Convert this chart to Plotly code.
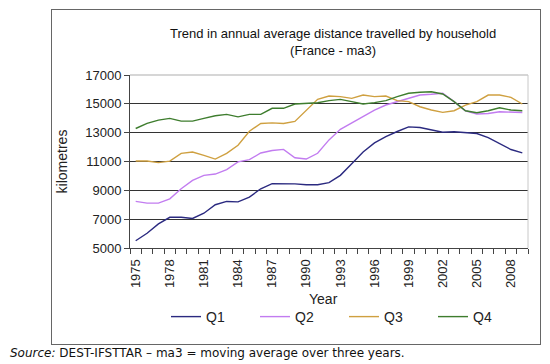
import plotly.graph_objects as go

years = list(range(1975, 2010))
q1 = [5500, 6020, 6670, 7130, 7130, 7050, 7410, 8000, 8230, 8200, 8530, 9110, 9460, 9460, 9450,
      9390, 9390, 9530, 10040, 10850, 11660, 12290, 12730, 13080, 13400, 13360, 13170, 13030, 13060,
      12990, 12940, 12660, 12250, 11830, 11600]
q2 = [8230, 8110, 8110, 8410, 9110, 9690, 10040, 10130, 10440, 10970, 11130, 11590, 11760, 11840, 11260,
      11170, 11570, 12500, 13230, 13680, 14150, 14570, 14920, 15150, 15430, 15610, 15660, 15730, 15150,
      14520, 14290, 14330, 14450, 14450, 14400]
q3 = [11030, 11030, 10920, 11030, 11560, 11660, 11430, 11170, 11560, 12130, 13100, 13640, 13680, 13640, 13780,
      14570, 15310, 15540, 15500, 15380, 15610, 15500, 15540, 15220, 15150, 14800, 14570, 14410, 14520,
      14910, 15150, 15610, 15610, 15450, 14990]
q4 = [13290, 13640, 13870, 13990, 13800, 13800, 13990, 14170, 14270, 14100, 14270, 14270, 14690, 14690, 14990,
      15030, 15080, 15220, 15310, 15150, 14990, 15080, 15220, 15500, 15730, 15800, 15840, 15680, 15150,
      14520, 14380, 14520, 14730, 14570, 14520]
series_names = ["Q1", "Q2", "Q3", "Q4"]
series_colors = ["#2B2A80", "#C27CF0", "#CFA040", "#3E7D2E"]
y_ticks = [5000, 7000, 9000, 11000, 13000, 15000, 17000]
y_tick_labels = [str(v) for v in y_ticks]
x_tick_years = years[::3]

title_text = "Trend in annual average distance travelled by household<br>(France - ma3)"
x_title = "Year"
source_text = "<i>Source:</i> DEST-IFSTTAR \u2013 ma3 = moving average over three years."

FONT = "Arial, 'Liberation Sans', sans-serif"

# the page adds an 8px body margin: screen px = figure px + 8
OFF = 8
W, H = 550 - OFF, 364 - OFF
# plot area on screen: x 130..528, y 75..248
SL, SR, ST, SB = 130, 528, 75, 248
L, T = SL - OFF, ST - OFF
R, B = W - (SR - OFF), H - (SB - OFF)
pw, ph = W - L - R, H - T - B

def px_x(px):
    return (px - SL) / pw

def px_y(py):
    return (SB - py) / ph

fig = go.Figure()
for name, vals, col in zip(series_names, [q1, q2, q3, q4], series_colors):
    fig.add_trace(go.Scatter(x=years, y=vals, name=name, mode="lines",
                             line=dict(color=col, width=1.4)))

fig.update_layout(
    template="none",
    width=W, height=H,
    margin=dict(l=L, r=R, t=T, b=B, autoexpand=False),
    paper_bgcolor="white", plot_bgcolor="white",
    font=dict(family=FONT, size=12, color="#222"),
    showlegend=True,
    legend=dict(orientation="h", xref="container", yref="container",
                x=(166 - OFF) / W, y=1 - (317 - OFF) / H, xanchor="left", yanchor="middle",
                font=dict(size=14, color="#222"), entrywidth=44, entrywidthmode="pixels",
                bgcolor="rgba(0,0,0,0)", borderwidth=0, itemwidth=30, tracegroupgap=0),
    xaxis=dict(range=[1974.5, 2009.5], tickvals=x_tick_years, ticktext=[str(y) for y in x_tick_years],
               tickangle=-90, ticks="", ticklabelstandoff=5, showgrid=False, zeroline=False,
               showline=True, linecolor="#444", linewidth=1, automargin=False,
               minor=dict(ticks="outside", tick0=0.5, dtick=1, ticklen=5, tickcolor="#444", showgrid=False),
               tickfont=dict(size=13, color="#222")),
    yaxis=dict(range=[5000, 17000], tickvals=y_ticks, ticktext=y_tick_labels,
               ticks="outside", ticklen=5, tickcolor="#444", automargin=False,
               showgrid=True, gridcolor="#333", gridwidth=1, zeroline=False,
               showline=True, linecolor="#444", linewidth=1,
               tickfont=dict(size=13, color="#222"),
               title=dict(text="kilometres", font=dict(size=14, color="#222"), standoff=14)),
)

# light plot-area border on top/right
fig.add_shape(type="line", xref="paper", yref="paper", x0=0, x1=1, y0=1, y1=1,
              line=dict(color="#c8c8c8", width=1.5), layer="above")
fig.add_shape(type="line", xref="paper", yref="paper", x0=1, x1=1, y0=0, y1=1,
              line=dict(color="#c8c8c8", width=1), layer="above")

# outer chart frame, drawn as an empty bordered annotation box
fx0, fx1, fy0, fy1 = 51, 541, 9, 345
fig.add_annotation(text=" ", xref="paper", yref="paper",
                   x=px_x((fx0 + fx1) / 2), y=px_y((fy0 + fy1) / 2),
                   xanchor="center", yanchor="middle", showarrow=False,
                   width=fx1 - fx0 - 2, height=fy1 - fy0 - 2, borderpad=0,
                   bordercolor="#666", borderwidth=1, bgcolor="rgba(0,0,0,0)")

fig.add_annotation(text=title_text, xref="paper", yref="paper", x=px_x(333), y=px_y(42),
                   xanchor="center", yanchor="middle", showarrow=False,
                   font=dict(size=13, color="#111", family=FONT))
fig.add_annotation(text=x_title, xref="paper", yref="paper", x=px_x(323), y=px_y(299),
                   xanchor="center", yanchor="middle", showarrow=False,
                   font=dict(size=14, color="#222", family=FONT))
fig.add_annotation(text=source_text, xref="paper", yref="paper", x=px_x(OFF), y=px_y(353),
                   xanchor="left", yanchor="middle", showarrow=False,
                   font=dict(size=12, color="#111", family="'DejaVu Sans', Verdana, sans-serif"))

fig.write_html("out.html")
